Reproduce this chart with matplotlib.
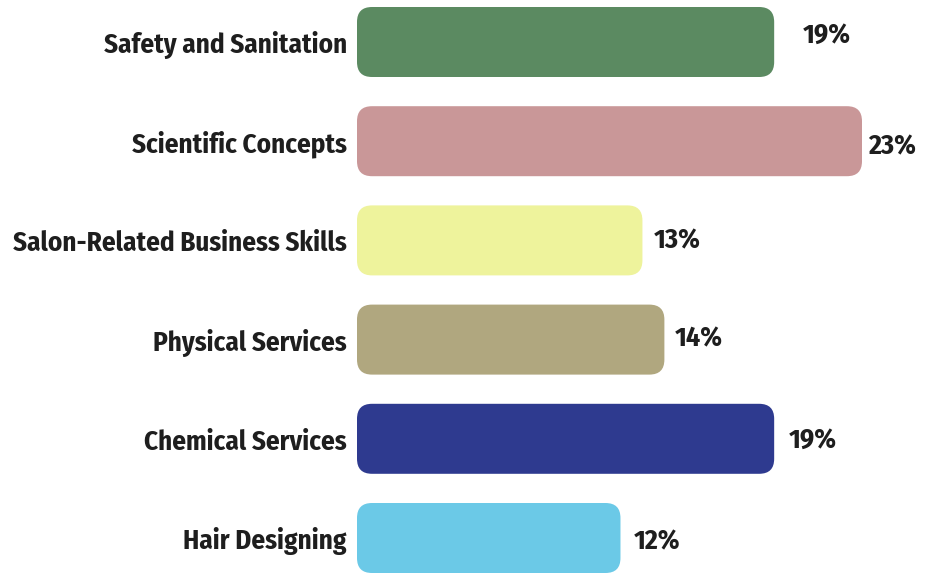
import matplotlib
matplotlib.use("Agg")
import matplotlib.pyplot as plt
from matplotlib.patches import FancyBboxPatch

categories = ["Safety and Sanitation", "Scientific Concepts", "Salon-Related Business Skills",
              "Physical Services", "Chemical Services", "Hair Designing"]
values = [19, 23, 13, 14, 19, 12]
value_labels = ["19%", "23%", "13%", "14%", "19%", "12%"]
colors = ["#5b8a61", "#c99798", "#eef39c", "#b0a77f", "#2e3a8f", "#6bc9e7"]

# percent labels in the original are placed by hand: gap after bar end and
# baseline offset below bar centre, both in pixels
label_gap = [29, 6, 11, 10, 15, 13]
label_drop = [1, 13, 8, 7, 9, 11]

W, H = 929, 574
fig = plt.figure(figsize=(W / 100, H / 100), dpi=100)
ax = fig.add_axes([0, 0, 1, 1])

# pixel mapping: x=0 at 357px, ~21.96 px per percent; rows 99.2 px apart
px_x = 505 / 23
px_y = 99.2
ax.set_xlim(-357 / px_x, (W - 357) / px_x)
ax.set_ylim((H - 42) / px_y, -42 / px_y)
ax.axis("off")

bar_h = 70 / px_y
aspect = (1 / px_y) / (1 / px_x)
font = ["Fira Sans Condensed", "DejaVu Sans"]
base = 11 / px_y  # category label baseline below bar centre

for i, (cat, v, lab, c) in enumerate(zip(categories, values, value_labels, colors)):
    box = FancyBboxPatch((0, i - bar_h / 2), v, bar_h,
                         boxstyle="round,pad=0,rounding_size=%f" % (15 / px_x),
                         mutation_aspect=aspect, facecolor=c, edgecolor="none")
    ax.add_patch(box)
    ax.text(-10 / px_x, i + base, cat, ha="right", va="baseline", fontsize=19.5,
            fontweight="bold", fontstretch="condensed", family=font, color="#1e1e1e")
    ax.text(v + label_gap[i] / px_x, i + label_drop[i] / px_y, lab, ha="left",
            va="baseline", fontsize=20, fontweight="bold", fontstretch="condensed",
            family=font, color="#1e1e1e")

fig.savefig("out.png", dpi=100)
